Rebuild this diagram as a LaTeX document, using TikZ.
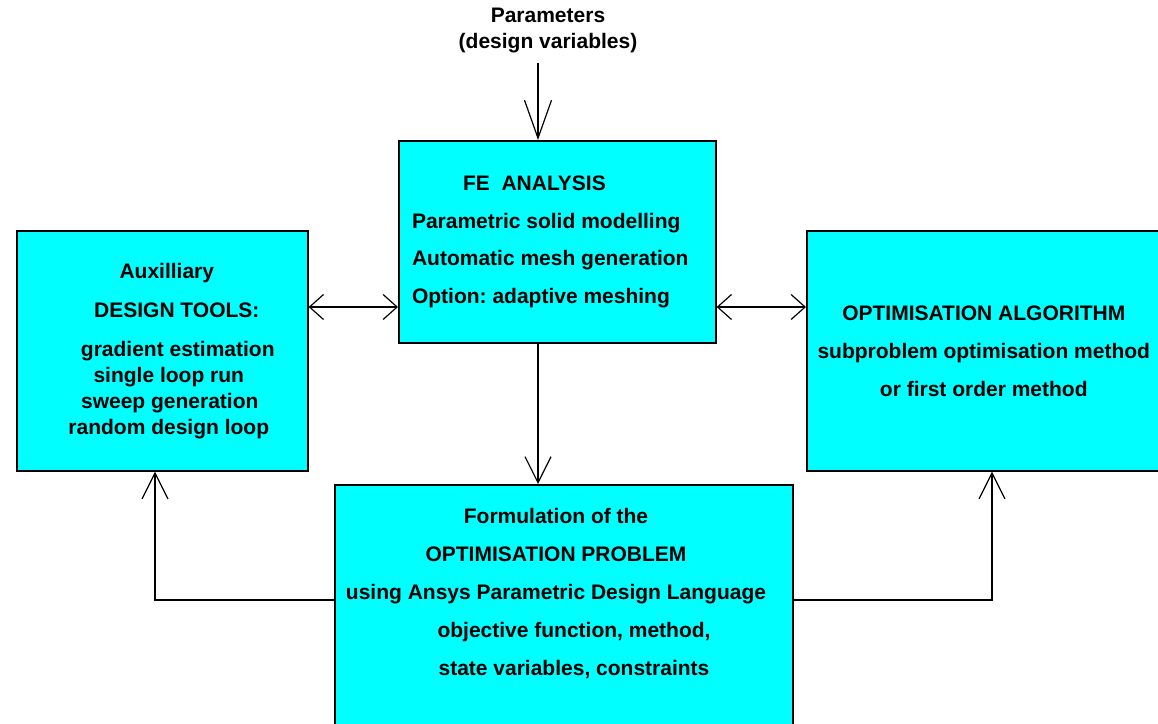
\documentclass[tikz,border=0pt]{standalone}
\usepackage{fontspec}
\setmainfont{Liberation Sans}
\usetikzlibrary{arrows.meta}
\definecolor{boxcyan}{RGB}{0,255,255}
\frenchspacing

\begin{document}
\begin{tikzpicture}[x=1pt,y=-1pt,
		box/.style={draw,line width=1.6pt,fill=boxcyan,anchor=north west,inner sep=0pt,font=\bfseries\fontsize{21}{26}\selectfont},
		txt/.style={inner sep=0pt,font=\bfseries\fontsize{21}{26}\selectfont},
		arr/.style={line width=1.2pt,-{Straight Barb[length=26pt,width=26pt]}},
		longarr/.style={line width=1.2pt,-{Straight Barb[length=38pt,width=27pt]}},
		dbl/.style={line width=1.2pt,{Straight Barb[length=14pt,width=25pt]}-{Straight Barb[length=14pt,width=25pt]}}]
			\useasboundingbox (0,0) rectangle (1158,723);
			\clip (0,0) rectangle (1158,723);
			% input parameters
			\node[txt,align=center] (params) at (548,30) {Parameters\\(design variables)};
			% the four blocks
			\node[box,minimum width=317pt,minimum height=202pt,align=left] (fe) at (398,140) {\hspace*{51pt}FE~~ANALYSIS\\[11.5pt]Parametric solid modelling\\[11.5pt]Automatic mesh generation\rule{14pt}{0pt}\\[11.5pt]Option: adaptive meshing};
			\node[box,minimum width=291pt,minimum height=240pt,align=center] (aux) at (16,230) {\hspace*{9pt}Auxilliary\\[13pt]\hspace*{29pt}DESIGN TOOLS:\\[13pt]\hspace*{31pt}gradient estimation\\\hspace*{13pt}single loop run\\\hspace*{15pt}sweep generation\\\hspace*{13pt}random design loop};
			\node[box,minimum width=354pt,minimum height=240pt,align=center] (opt) at (806,230) {OPTIMISATION ALGORITHM\\[12pt]subproblem optimisation method\\[12pt]or first order method};
			\node[box,minimum width=458pt,minimum height=250pt] (form) at (334,484) {};
			\node[txt,anchor=north,align=center,font=\bfseries\fontsize{21}{38}\selectfont] (formtxt) at (556,508) {Formulation of the\\OPTIMISATION PROBLEM\\using Ansys Parametric Design Language\\\hspace*{36pt}objective function, method,\\\hspace*{36pt}state variables, constraints};
			% connectors
			\coordinate (in) at (538,63);
			\coordinate (mid) at (0,307);
			\coordinate (lo) at (155,600);
			\coordinate (ro) at (992,600);
			\draw[longarr] (in) -- (in |- fe.north);
			\draw[arr] (fe.south -| in) -- (form.north -| in);
			\draw[dbl] (aux.east |- mid) -- (fe.west |- mid);
			\draw[dbl] (fe.east |- mid) -- (opt.west |- mid);
			\draw[arr] (form.west |- lo) -| (aux.south -| lo);
			\draw[arr] (form.east |- ro) -| (opt.south -| ro);
		\end{tikzpicture}
\end{document}
